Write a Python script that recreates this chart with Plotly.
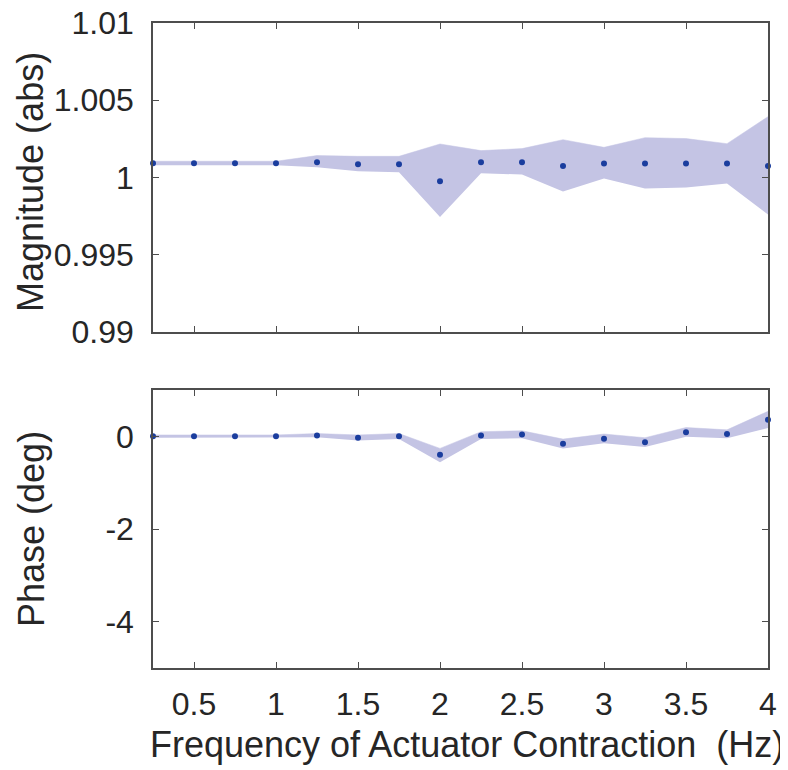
import plotly.graph_objects as go

freq = [0.25, 0.5, 0.75, 1.0, 1.25, 1.5, 1.75, 2.0, 2.25, 2.5, 2.75, 3.0, 3.25, 3.5, 3.75, 4.0]

mag_mean = [1.00092, 1.00092, 1.00092, 1.00092, 1.00099, 1.00086, 1.00086, 0.99976,
            1.00099, 1.00099, 1.00075, 1.00090, 1.00090, 1.00090, 1.00090, 1.00075]
mag_upper = [1.00105, 1.00105, 1.00105, 1.00105, 1.00142, 1.00137, 1.00137, 1.00217,
             1.00174, 1.00187, 1.00245, 1.00195, 1.00258, 1.00252, 1.00219, 1.00394]
mag_lower = [1.00080, 1.00080, 1.00080, 1.00080, 1.00066, 1.00041, 1.00034, 0.99744,
             1.00028, 1.00019, 0.99910, 0.99994, 0.99929, 0.99935, 0.99961, 0.99761]

phase_mean = [0.0, 0.0, 0.0, 0.0, 0.02, -0.03, 0.0, -0.40,
              0.02, 0.04, -0.16, -0.05, -0.13, 0.09, 0.05, 0.36]
phase_upper = [0.03, 0.03, 0.03, 0.03, 0.06, 0.03, 0.06, -0.26,
               0.10, 0.12, -0.06, 0.05, -0.03, 0.19, 0.14, 0.54]
phase_lower = [-0.03, -0.03, -0.03, -0.03, -0.02, -0.09, -0.06, -0.56,
               -0.06, -0.04, -0.26, -0.15, -0.23, -0.01, -0.04, 0.18]

x_ticks = [0.5, 1, 1.5, 2, 2.5, 3, 3.5, 4]
x_ticktext = ["0.5", "1", "1.5", "2", "2.5", "3", "3.5", "4"]
mag_ticks = [0.99, 0.995, 1.0, 1.005, 1.01]
mag_ticktext = ["0.99", "0.995", "1", "1.005", "1.01"]
phase_ticks = [-4, -2, 0]
phase_ticktext = ["-4", "-2", "0"]

FILL = "rgba(196,196,228,1)"
DOT = "#1a3d9e"
TXT = "#262626"
AX = "#4d4d4d"
FONT = "Liberation Sans, Arial, sans-serif"

# page body has an 8px margin; figure is sized/positioned to compensate
OFF = 8
W, H = 788 - OFF, 770 - OFF
ML, MR, MT, MB = 153 - OFF, 20, 23 - OFF, 102
PW, PH = W - ML - MR, H - MT - MB


def px_to_paper(px, py):
    # px, py are screen pixel positions in the 788x770 window
    return (px - OFF - ML) / PW, (H - MB - (py - OFF)) / PH


fig = go.Figure()


def band(x, lo, hi, xa, ya):
    fig.add_trace(go.Scatter(x=x, y=lo, mode="lines", line=dict(width=0, color=FILL),
                             xaxis=xa, yaxis=ya, showlegend=False, hoverinfo="skip"))
    fig.add_trace(go.Scatter(x=x, y=hi, mode="lines", line=dict(width=0.5, color=FILL),
                             fill="tonexty", fillcolor=FILL,
                             xaxis=xa, yaxis=ya, showlegend=False, hoverinfo="skip"))


band(freq, mag_lower, mag_upper, "x", "y")
fig.add_trace(go.Scatter(x=freq, y=mag_mean, mode="markers",
                         marker=dict(size=6, color=DOT), xaxis="x", yaxis="y",
                         showlegend=False, cliponaxis=False))
band(freq, phase_lower, phase_upper, "x2", "y2")
fig.add_trace(go.Scatter(x=freq, y=phase_mean, mode="markers",
                         marker=dict(size=6, color=DOT), xaxis="x2", yaxis="y2",
                         showlegend=False, cliponaxis=False))

common = dict(showline=True, linecolor=AX, linewidth=1.5, mirror="ticks",
              ticks="inside", ticklen=6, tickcolor=AX, tickwidth=1.2,
              showgrid=False, zeroline=False, automargin=False,
              ticklabeloverflow="allow",
              tickfont=dict(family=FONT, size=32, color=TXT))

ann = []
for text, px, py, ang in [("Magnitude (abs)", 30, 182, -90),
                          ("Phase (deg)", 31, 529, -90),
                          ("Frequency of Actuator Contraction  (Hz)", 467, 745, 0)]:
    xp, yp = px_to_paper(px, py)
    ann.append(dict(text=text, x=xp, y=yp, xref="paper", yref="paper",
                    xanchor="center", yanchor="middle", showarrow=False,
                    textangle=ang, font=dict(family=FONT, size=36, color=TXT)))

top_lo = px_to_paper(0, 332)[1]
bot_hi = px_to_paper(0, 390)[1]

fig.update_layout(
    width=W, height=H,
    margin=dict(l=ML, r=MR, t=MT, b=MB, pad=0),
    paper_bgcolor="white", plot_bgcolor="white",
    xaxis=dict(domain=[0, 1], anchor="y", range=[0.25, 4], tickvals=x_ticks,
               showticklabels=False, **common),
    yaxis=dict(domain=[top_lo, 1], anchor="x", range=[0.99, 1.01],
               tickvals=mag_ticks, ticktext=mag_ticktext, ticklabelstandoff=11, **common),
    xaxis2=dict(domain=[0, 1], anchor="y2", range=[0.25, 4], tickvals=x_ticks,
                ticktext=x_ticktext, ticklabelstandoff=7, **common),
    yaxis2=dict(domain=[0, bot_hi], anchor="x2", range=[-5, 1],
                tickvals=phase_ticks, ticktext=phase_ticktext, ticklabelstandoff=11, **common),
    annotations=ann,
)

fig.write_html("out.html")
